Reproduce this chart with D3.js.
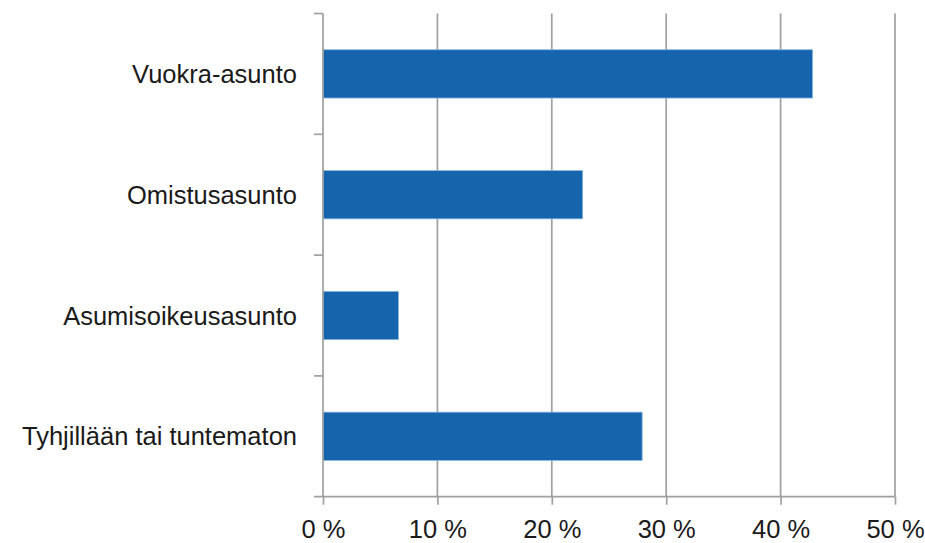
<!DOCTYPE html>
<html>
<head>
<meta charset="utf-8">
<script src="https://cdn.jsdelivr.net/npm/d3@7"></script>
<style>
  html, body { margin: 0; padding: 0; background: #fff; }
  svg text { font-family: "Liberation Sans", Arial, sans-serif; fill: #1a1a1a; }
</style>
</head>
<body>
<svg id="chart" width="925" height="543"></svg>
<script>
// Housing type shares (%)
const categories = ["Vuokra-asunto", "Omistusasunto", "Asumisoikeusasunto", "Tyhjillään tai tuntematon"];
const values = [42.8, 22.7, 6.6, 27.9];
const xTicks = [0, 10, 20, 30, 40, 50];

const svg = d3.select("#chart");
const plotLeft = 323, plotRight = 895, plotTop = 13.5, plotBottom = 496.7;
const fontSize = 25.5;

const x = d3.scaleLinear().domain([0, 50]).range([plotLeft, plotRight]);
const y = d3.scaleBand().domain(categories).range([plotTop, plotBottom]).paddingInner(0.6).paddingOuter(0.3);

const gridColor = "#a0a0a0";

// vertical gridlines
svg.append("g").selectAll("line")
  .data(xTicks.slice(1))
  .join("line")
  .attr("x1", d => x(d)).attr("x2", d => x(d))
  .attr("y1", plotTop).attr("y2", plotBottom)
  .attr("stroke", gridColor).attr("stroke-width", 1.7);

// bars
svg.append("g").selectAll("rect")
  .data(categories.map((c, i) => ({ c, v: values[i] })))
  .join("rect")
  .attr("x", x(0))
  .attr("y", d => y(d.c))
  .attr("width", d => x(d.v) - x(0))
  .attr("height", y.bandwidth())
  .attr("fill", "#1665ac")
  .attr("stroke", "#8fb8e4")
  .attr("stroke-width", 0.8);

// x axis
const xAxis = d3.axisBottom(x).tickValues(xTicks).tickFormat(d => d + " %").tickSize(8).tickPadding(15);
const gx = svg.append("g").attr("transform", `translate(0,${plotBottom})`).call(xAxis);
gx.select(".domain").attr("stroke", gridColor).attr("stroke-width", 1.7).attr("d", `M${plotLeft - 9},0H${plotRight}`);
gx.selectAll(".tick line").attr("stroke", gridColor).attr("stroke-width", 1.7);
gx.selectAll(".tick text").attr("font-size", fontSize).attr("fill", "#1a1a1a")
  .attr("font-family", "'Liberation Sans', Arial, sans-serif");

// y axis: category boundaries get tick marks
const step = (plotBottom - plotTop) / categories.length;
const gy = svg.append("g");
gy.append("line")
  .attr("x1", plotLeft).attr("x2", plotLeft).attr("y1", plotTop).attr("y2", plotBottom)
  .attr("stroke", gridColor).attr("stroke-width", 1.7);
gy.selectAll("line.tk")
  .data(d3.range(categories.length))
  .join("line").attr("class", "tk")
  .attr("x1", plotLeft - 9).attr("x2", plotLeft)
  .attr("y1", i => plotTop + i * step).attr("y2", i => plotTop + i * step)
  .attr("stroke", gridColor).attr("stroke-width", 1.7);
gy.selectAll("text")
  .data(categories)
  .join("text")
  .attr("x", plotLeft - 26)
  .attr("y", d => y(d) + y.bandwidth() / 2)
  .attr("dy", "0.36em")
  .attr("text-anchor", "end")
  .attr("font-size", fontSize)
  .text(d => d);
</script>
</body>
</html>
